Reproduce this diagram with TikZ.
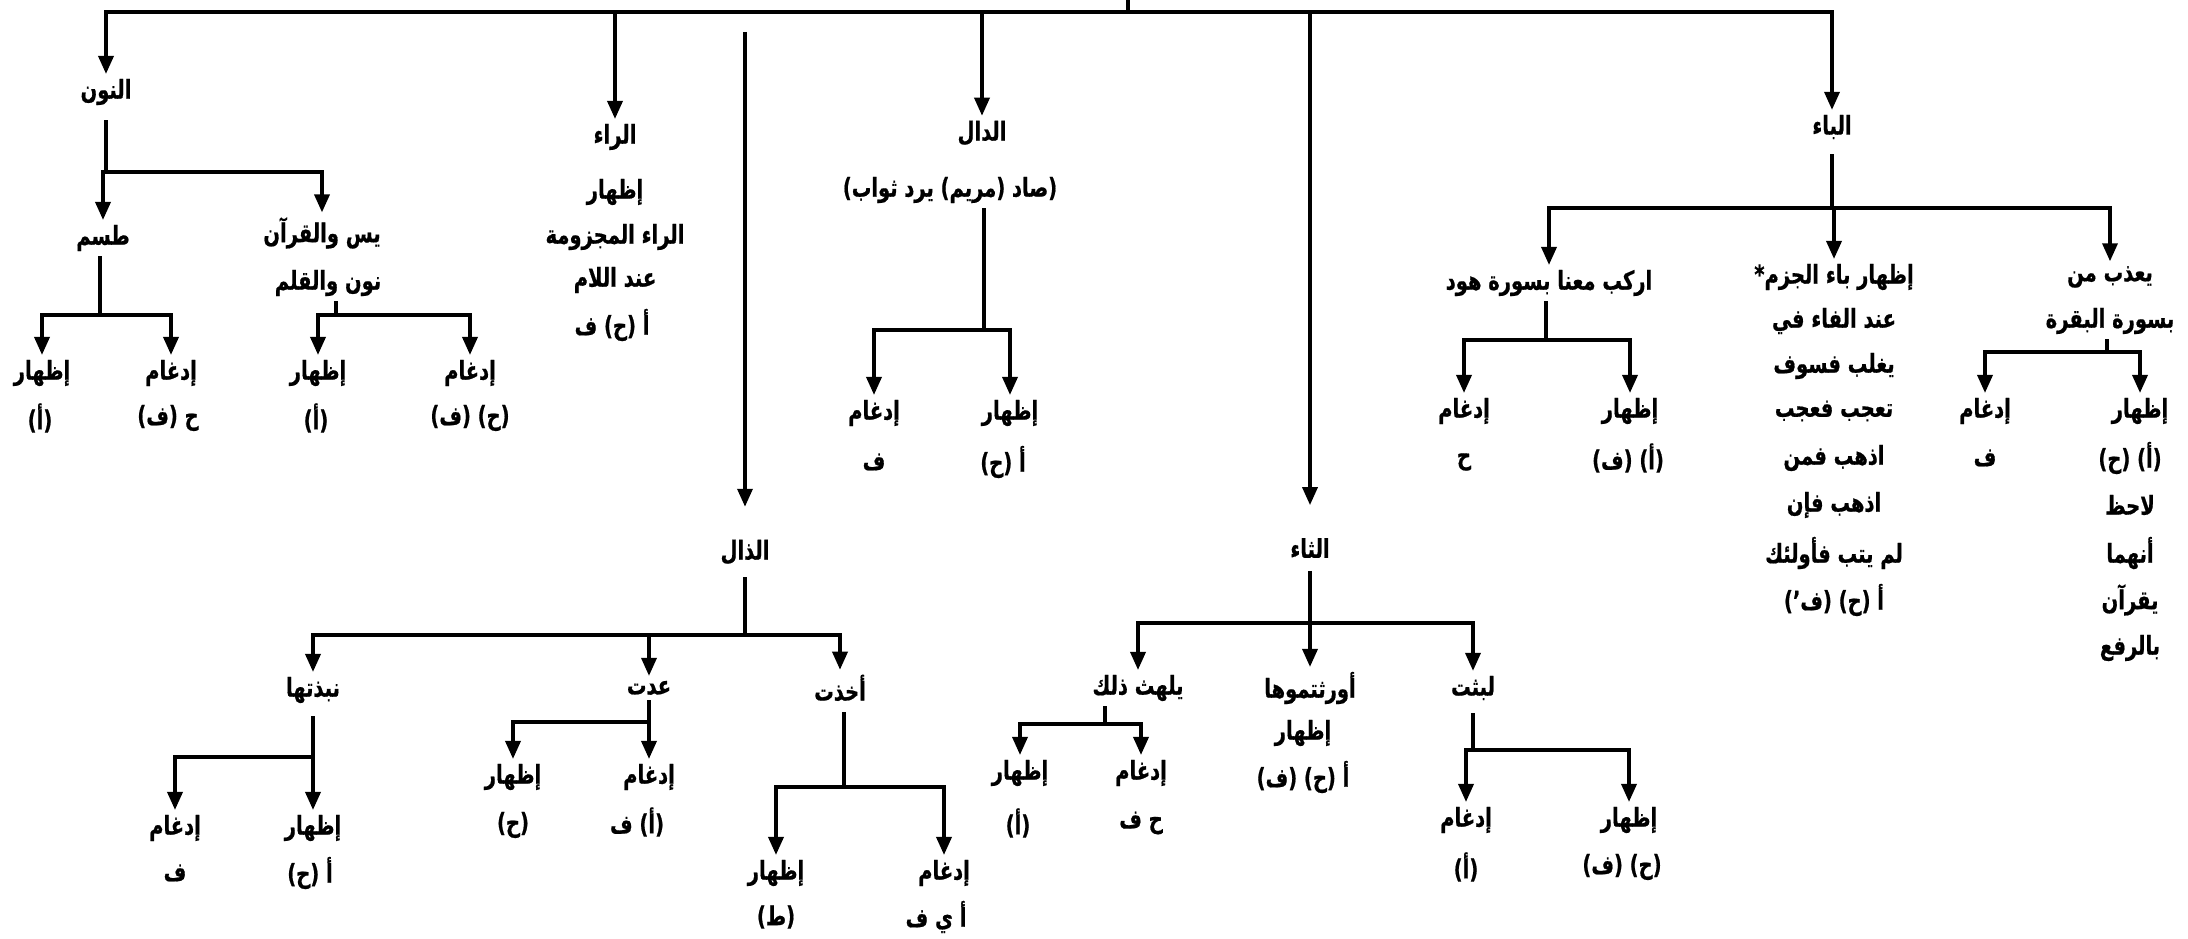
\documentclass[tikz,border=0pt]{standalone}
\usepackage{fontspec}
\usetikzlibrary{arrows.meta}
\newfontfamily\arabicfont[Script=Arabic,FakeStretch=0.75,BoldFeatures={FakeBold=0.7}]{DejaVu Sans}
\TeXXeTstate=1
\newcommand{\ar}[1]{{\arabicfont\bfseries\beginR #1\endR}}

\begin{document}
\begin{tikzpicture}[x=1pt,y=-1pt,
    txt/.style={inner sep=1pt,outer sep=4pt,font=\fontsize{26}{28}\selectfont},
    ln/.style={line width=3.5pt},
    arr/.style={line width=3.5pt,-{Triangle[width=15pt,length=18pt]}}]
  \useasboundingbox (0,0) rectangle (2188,939);
  % top level
  \coordinate (root) at (1128,0);
  \coordinate (rootJ) at (1128,12);
  \coordinate (dhalT) at (745,32);
  \node[txt] (nun) at (106,92) {\ar{النون}};
  \node[txt] (raa1) at (615,137) {\ar{الراء}};
  \node[txt] (raa2) at (615,192) {\ar{إظهار}};
  \node[txt] (raa3) at (615,237) {\ar{الراء المجزومة}};
  \node[txt] (raa4) at (615,280) {\ar{عند اللام}};
  \node[txt] (raa5) at (612,325) {\ar{أ (ح) ف}};
  \node[txt] (dal) at (982,133) {\ar{الدال}};
  \node[txt] (dal2) at (950,190) {\ar{(صاد (مريم) يرد ثواب)}};
  \node[txt] (dhal) at (745,552) {\ar{الذال}};
  \node[txt] (thaa) at (1310,548) {\ar{الثاء}};
  \node[txt] (baa) at (1832,127) {\ar{الباء}};
  \draw[ln] (root) -- (rootJ);
  \draw[arr] (rootJ) -| (nun);
  \draw[arr] (rootJ) -| (raa1);
  \draw[arr] (rootJ) -| (dal);
  \draw[arr] (rootJ) -| ([yshift=28pt]thaa.north);
  \draw[arr] (rootJ) -| (baa);
  \draw[arr] (dhalT) -- ([yshift=28pt]dhal.north);
  % nun
  \coordinate (nunJ) at (106,172);
  \node[txt] (tasim) at (103,238) {\ar{طسم}};
  \node[txt] (yasin1) at (322,233) {\ar{يس والقرآن}};
  \node[txt] (yasin2) at (328,283) {\ar{نون والقلم}};
  \draw[ln] ([yshift=-10pt]nun.south -| nunJ) -- (nunJ);
  \draw[arr] (nunJ) -| (tasim);
  \draw[arr] (nunJ) -| (yasin1);
  \coordinate (tasJ) at (100,315);
  \node[txt] (tasA1) at (42,373) {\ar{إظهار}};
  \node[txt] (tasA2) at (40,418) {\ar{(أ)}};
  \node[txt] (tasB1) at (171,373) {\ar{إدغام}};
  \node[txt] (tasB2) at (168,418) {\ar{ح (ف)}};
  \draw[ln] (tasim.south -| tasJ) -- (tasJ);
  \draw[arr] (tasJ) -| (tasA1);
  \draw[arr] (tasJ) -| (tasB1);
  \coordinate (yasJ) at (336,315);
  \node[txt] (yasA1) at (318,373) {\ar{إظهار}};
  \node[txt] (yasA2) at (316,418) {\ar{(أ)}};
  \node[txt] (yasB1) at (470,373) {\ar{إدغام}};
  \node[txt] (yasB2) at (470,418) {\ar{(ح) (ف)}};
  \draw[ln] (yasin2.south -| yasJ) -- (yasJ);
  \draw[arr] (yasJ) -| (yasA1);
  \draw[arr] (yasJ) -| (yasB1);
  % dal
  \coordinate (dalJ) at (984,330);
  \node[txt] (dalA1) at (874,413) {\ar{إدغام}};
  \node[txt] (dalA2) at (874,462) {\ar{ف}};
  \node[txt] (dalB1) at (1010,413) {\ar{إظهار}};
  \node[txt] (dalB2) at (1003,462) {\ar{أ (ح)}};
  \draw[ln] (dal2.south -| dalJ) -- (dalJ);
  \draw[arr] (dalJ) -| (dalA1);
  \draw[arr] (dalJ) -| (dalB1);
  % dhal
  \coordinate (dhalJ) at (745,635);
  \node[txt] (nab) at (313,690) {\ar{نبذتها}};
  \node[txt] (udt) at (649,688) {\ar{عدت}};
  \node[txt] (akh) at (840,688) {\ar{أخذت}};
  \draw[ln] ([yshift=-8pt]dhal.south -| dhalJ) -- (dhalJ);
  \draw[arr] (dhalJ) -| (nab);
  \draw[arr] (dhalJ) -| (udt);
  \draw[arr] (dhalJ) -| (akh);
  \coordinate (nabJ) at (313,757);
  \node[txt] (nabA1) at (175,828) {\ar{إدغام}};
  \node[txt] (nabA2) at (175,873) {\ar{ف}};
  \node[txt] (nabB1) at (313,828) {\ar{إظهار}};
  \node[txt] (nabB2) at (310,873) {\ar{أ (ح)}};
  \draw[ln] ([yshift=-8pt]nab.south -| nabJ) -- (nabJ);
  \draw[arr] (nabJ) -| (nabA1);
  \draw[arr] (nabJ) -| (nabB1);
  \coordinate (udtJ) at (649,722);
  \node[txt] (udtA1) at (513,777) {\ar{إظهار}};
  \node[txt] (udtA2) at (513,825) {\ar{(ح)}};
  \node[txt] (udtB1) at (649,777) {\ar{إدغام}};
  \node[txt] (udtB2) at (637,822) {\ar{(أ) ف}};
  \draw[ln] (udt.south -| udtJ) -- (udtJ);
  \draw[arr] (udtJ) -| (udtA1);
  \draw[arr] (udtJ) -| (udtB1);
  \coordinate (akhJ) at (844,787);
  \node[txt] (akhA1) at (776,873) {\ar{إظهار}};
  \node[txt] (akhA2) at (776,917) {\ar{(ط)}};
  \node[txt] (akhB1) at (944,873) {\ar{إدغام}};
  \node[txt] (akhB2) at (936,917) {\ar{أ ي ف}};
  \draw[ln] ([yshift=-6pt]akh.south -| akhJ) -- (akhJ);
  \draw[arr] (akhJ) -| (akhA1);
  \draw[arr] (akhJ) -| (akhB1);
  % thaa
  \coordinate (thaaJ) at (1310,623);
  \node[txt] (yal) at (1138,688) {\ar{يلهث ذلك}};
  \node[txt] (awr1) at (1310,688) {\ar{أورثتموها}};
  \node[txt] (awr2) at (1303,733) {\ar{إظهار}};
  \node[txt] (awr3) at (1303,777) {\ar{أ (ح) (ف)}};
  \node[txt] (lab) at (1473,688) {\ar{لبثت}};
  \draw[ln] ([yshift=-8pt]thaa.south -| thaaJ) -- (thaaJ);
  \draw[arr] (thaaJ) -| (yal);
  \draw[arr] (thaaJ) -| (awr1);
  \draw[arr] (thaaJ) -| (lab);
  \coordinate (yalJ) at (1105,724);
  \node[txt] (yalA1) at (1020,773) {\ar{إظهار}};
  \node[txt] (yalA2) at (1018,823) {\ar{(أ)}};
  \node[txt] (yalB1) at (1141,773) {\ar{إدغام}};
  \node[txt] (yalB2) at (1141,823) {\ar{ح ف}};
  \draw[ln] (yal.south -| yalJ) -- (yalJ);
  \draw[arr] (yalJ) -| (yalA1);
  \draw[arr] (yalJ) -| (yalB1);
  \coordinate (labJ) at (1473,750);
  \node[txt] (labA1) at (1466,820) {\ar{إدغام}};
  \node[txt] (labA2) at (1466,867) {\ar{(أ)}};
  \node[txt] (labB1) at (1629,820) {\ar{إظهار}};
  \node[txt] (labB2) at (1622,867) {\ar{(ح) (ف)}};
  \draw[ln] ([yshift=-8pt]lab.south -| labJ) -- (labJ);
  \draw[arr] (labJ) -| (labA1);
  \draw[arr] (labJ) -| (labB1);
  % baa
  \coordinate (baaJ) at (1832,208);
  \node[txt] (rak) at (1549,283) {\ar{اركب معنا بسورة هود}};
  \node[txt] (iz1) at (1834,277) {\ar{إظهار باء الجزم*}};
  \node[txt] (iz2) at (1834,321) {\ar{عند الفاء في}};
  \node[txt] (iz3) at (1834,366) {\ar{يغلب فسوف}};
  \node[txt] (iz4) at (1834,411) {\ar{تعجب فعجب}};
  \node[txt] (iz5) at (1834,458) {\ar{اذهب فمن}};
  \node[txt] (iz6) at (1834,505) {\ar{اذهب فإن}};
  \node[txt] (iz7) at (1834,553) {\ar{لم يتب فأولئك}};
  \node[txt] (iz8) at (1834,600) {\ar{أ (ح) (ف’)}};
  \node[txt] (yu1) at (2110,277) {\ar{يعذب من}};
  \node[txt] (yu2) at (2110,321) {\ar{بسورة البقرة}};
  \draw[ln] ([yshift=-10pt]baa.south -| baaJ) -- (baaJ);
  \draw[arr] (baaJ) -| (rak);
  \draw[arr] (baaJ) -| (iz1);
  \draw[arr] (baaJ) -| (yu1);
  \coordinate (rakJ) at (1546,340);
  \node[txt] (rakA1) at (1464,411) {\ar{إدغام}};
  \node[txt] (rakA2) at (1464,462) {\ar{ح}};
  \node[txt] (rakB1) at (1630,411) {\ar{إظهار}};
  \node[txt] (rakB2) at (1628,458) {\ar{(أ) (ف)}};
  \draw[ln] (rak.south -| rakJ) -- (rakJ);
  \draw[arr] (rakJ) -| (rakA1);
  \draw[arr] (rakJ) -| (rakB1);
  \coordinate (yuJ) at (2107,352);
  \node[txt] (yuA1) at (1985,411) {\ar{إدغام}};
  \node[txt] (yuA2) at (1985,458) {\ar{ف}};
  \node[txt] (yuB1) at (2140,411) {\ar{إظهار}};
  \node[txt] (yuB2) at (2130,458) {\ar{(أ) (ح)}};
  \node[txt] (yuB3) at (2130,505) {\ar{لاحظ}};
  \node[txt] (yuB4) at (2130,553) {\ar{أنهما}};
  \node[txt] (yuB5) at (2130,600) {\ar{يقرآن}};
  \node[txt] (yuB6) at (2130,648) {\ar{بالرفع}};
  \draw[ln] (yu2.south -| yuJ) -- (yuJ);
  \draw[arr] (yuJ) -| (yuA1);
  \draw[arr] (yuJ) -| (yuB1);
\end{tikzpicture}
\end{document}
